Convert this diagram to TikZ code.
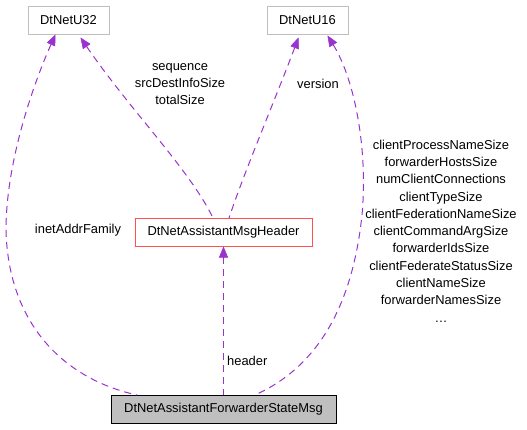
\documentclass[tikz,border=0pt]{standalone}
\usepackage{fontspec}
\setmainfont{Liberation Sans}
\usetikzlibrary{arrows.meta}
\definecolor{edgecol}{HTML}{9A32CD}
\definecolor{boxgray}{HTML}{BFBFBF}
\tikzset{
box/.style={draw=boxgray,line width=1pt,minimum height=28pt,inner sep=0pt,font=\fontsize{12.9}{17.3}\selectfont},
hdrbox/.style={box,draw={rgb,255:red,255;green,80;blue,80}},
mainbox/.style={box,draw=black,fill=boxgray},
lbl/.style={align=center,inner sep=0pt,font=\fontsize{12.9}{17.3}\selectfont},
member/.style={draw=edgecol,line width=1pt,dash pattern=on 7pt off 5pt,
	{Triangle[length=11pt,width=9pt,fill=edgecol,line width=0.5pt,sep=0pt]}-},
}
\begin{document}
\begin{tikzpicture}[x=1pt,y=-1pt]
\useasboundingbox (0,0) rectangle (527,429);
%Place the nodes
\node[box,minimum width=81pt] (u32) at (68.5,20) {DtNetU32};
\node[box,minimum width=81pt] (u16) at (307.5,20) {DtNetU16};
\node[hdrbox,minimum width=177pt] (hdr) at (223.5,232) {DtNetAssistantMsgHeader};
\node[mainbox,minimum width=225pt] (msg) at (223.5,409) {DtNetAssistantForwarderStateMsg};

\coordinate (hdrl) at (213,218);
\coordinate (hdrr) at (229,218);

%Edges
\draw[member] (u32.south) ++(-13,0) coordinate (u32l)
	.. controls (35,80) and (6,160) .. (6,230)
	.. controls (8,320) and (60,378) .. (137,395);
\draw[member] (u32.south) ++(12,3) coordinate (u32r)
	.. controls (130,110) and (190,170) .. (hdrl);
\draw[member] (u16.south) ++(-9,3) coordinate (u16l)
	.. controls (275,100) and (245,170) .. (hdrr);
\draw[member] (u16.south) ++(20,1) coordinate (u16r)
	.. controls (355,80) and (368,150) .. (362,215)
	.. controls (352,310) and (315,368) .. (255,395);
\draw[member] (hdr.south) -- (msg.north);

%Labels
\node[lbl] (l1) at (78,230) {inetAddrFamily};
\node[lbl] (l2) at (180,84) {sequence\\srcDestInfoSize\\totalSize};
\node[lbl] (l3) at (318,84) {version};
\node[lbl,anchor=west] (l4) at (227,361) {header};
\node[lbl] (l5) at (441,231) {clientProcessNameSize\\forwarderHostsSize\\numClientConnections\\clientTypeSize\\clientFederationNameSize\\clientCommandArgSize\\forwarderIdsSize\\clientFederateStatusSize\\clientNameSize\\forwarderNamesSize\\\dots};
\end{tikzpicture}
\end{document}
